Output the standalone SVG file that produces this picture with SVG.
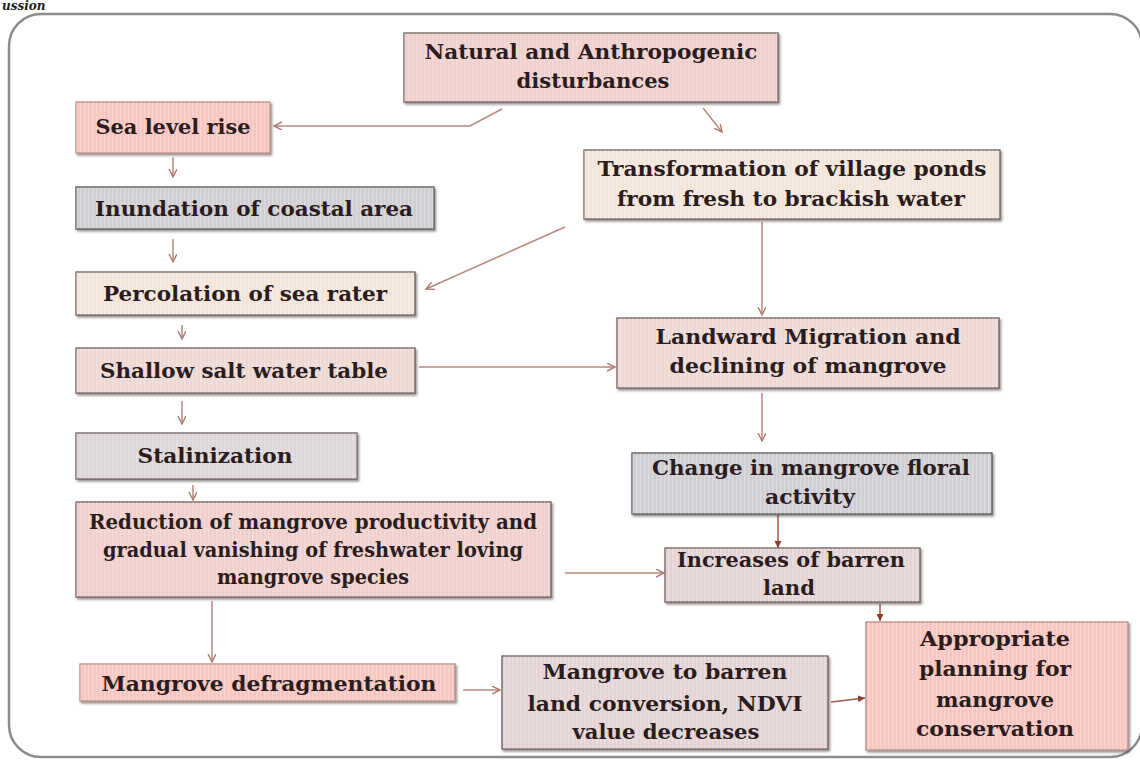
<svg xmlns="http://www.w3.org/2000/svg" width="1140" height="760" viewBox="0 0 1140 760">
<defs>
<filter id="sh" x="-5%" y="-10%" width="110%" height="130%">
<feDropShadow dx="1.5" dy="2" stdDeviation="1" flood-color="#4a3a3a" flood-opacity="0.55"/>
</filter>
<pattern id="stripes" width="4" height="4" patternUnits="userSpaceOnUse">
<rect x="0" y="0" width="1.5" height="4" fill="#ffffff" fill-opacity="0.22"/>
</pattern>
<marker id="open" markerWidth="10" markerHeight="10" refX="8" refY="4" orient="auto" markerUnits="userSpaceOnUse">
<path d="M0,0 L8,4 L0,8" fill="none" stroke="#b0786c" stroke-width="1.4"/>
</marker>
<marker id="solid" markerWidth="10" markerHeight="10" refX="7" refY="3.5" orient="auto" markerUnits="userSpaceOnUse">
<path d="M0,0 L7,3.5 L0,7 Z" fill="#8e3a2c"/>
</marker>
</defs>
<style>
.box{stroke:#6f5c5c;stroke-width:1.3;filter:url(#sh)}
.ov{fill:url(#stripes);stroke:none}
.salmon{fill:#f8c5c0;stroke:#b98a86}
.pink{fill:#f0cfcd}
.beige{fill:#f3e5da}
.rose{fill:#edd8d4}
.gray{fill:#cfcfd3;stroke:#555}
.lgray{fill:#ddd7d9}
.mauve{fill:#e4d3d4}
text{font-family:"DejaVu Serif","Liberation Serif",serif;font-weight:bold;font-size:21px;fill:#2b1d1d;text-anchor:middle}
.c{fill:none;stroke:#b88a7c;stroke-width:1.5;marker-end:url(#open)}
.cs{fill:none;stroke:#a0594a;stroke-width:1.5;marker-end:url(#solid)}
</style>
<rect width="1140" height="760" fill="#ffffff"/>
<text x="2" y="10" style="font-style:italic;font-size:12px;fill:#222;text-anchor:start">ussion</text>
<rect x="9" y="14" width="1133" height="743" rx="32" ry="32" fill="none" stroke="#8c8c8c" stroke-width="2.5"/>

<g id="connectors">
<polyline class="c" points="502,109 470,126 274,126"/>
<line class="c" x1="703" y1="108" x2="722" y2="132"/>
<line class="c" x1="173" y1="157" x2="173" y2="177"/>
<line class="c" x1="173" y1="239" x2="173" y2="262"/>
<line class="c" x1="565" y1="227" x2="426" y2="289"/>
<line class="c" x1="182" y1="325" x2="182" y2="339"/>
<line class="c" x1="419" y1="367" x2="615" y2="367"/>
<line class="c" x1="762" y1="222" x2="762" y2="315"/>
<line class="c" x1="182" y1="401" x2="182" y2="424"/>
<line class="c" x1="762" y1="393" x2="762" y2="441"/>
<line class="c" x1="193" y1="485" x2="193" y2="500"/>
<line class="cs" x1="778" y1="515" x2="778" y2="548"/>
<line class="c" x1="565" y1="573" x2="664" y2="573"/>
<line class="c" x1="212" y1="601" x2="212" y2="662"/>
<line class="cs" x1="880" y1="604" x2="880" y2="621"/>
<line class="c" x1="463" y1="690" x2="500" y2="690"/>
<line class="cs" x1="831" y1="702" x2="865" y2="698"/>
</g>

<g id="n_natural">
<rect class="box pink" x="404" y="33" width="374" height="69"/>
<rect class="ov" x="404" y="33" width="374" height="69"/>
<text x="591" y="59" textLength="333" lengthAdjust="spacingAndGlyphs">Natural and Anthropogenic</text>
<text x="593" y="88" textLength="153" lengthAdjust="spacingAndGlyphs">disturbances</text>
</g>

<g id="n_sealevel">
<rect class="box salmon" x="76" y="102" width="194" height="51"/>
<rect class="ov" x="76" y="102" width="194" height="51"/>
<text x="173" y="134" textLength="155" lengthAdjust="spacingAndGlyphs">Sea level rise</text>
</g>

<g id="n_transformation">
<rect class="box beige" x="584" y="150" width="416" height="69"/>
<rect class="ov" x="584" y="150" width="416" height="69"/>
<text x="792" y="176" textLength="389" lengthAdjust="spacingAndGlyphs">Transformation of village ponds</text>
<text x="791" y="206" textLength="348" lengthAdjust="spacingAndGlyphs">from fresh to brackish water</text>
</g>

<g id="n_inundation">
<rect class="box gray" x="76" y="187" width="358" height="42"/>
<rect class="ov" x="76" y="187" width="358" height="42"/>
<text x="254" y="216" textLength="318" lengthAdjust="spacingAndGlyphs">Inundation of coastal area</text>
</g>

<g id="n_percolation">
<rect class="box beige" x="76" y="272" width="339" height="43"/>
<rect class="ov" x="76" y="272" width="339" height="43"/>
<text x="245" y="301" textLength="284" lengthAdjust="spacingAndGlyphs">Percolation of sea rater</text>
</g>

<g id="n_shallow">
<rect class="box rose" x="76" y="348" width="339" height="45"/>
<rect class="ov" x="76" y="348" width="339" height="45"/>
<text x="244" y="378" textLength="288" lengthAdjust="spacingAndGlyphs">Shallow salt water table</text>
</g>

<g id="n_landward">
<rect class="box rose" x="617" y="318" width="382" height="70"/>
<rect class="ov" x="617" y="318" width="382" height="70"/>
<text x="808" y="344" textLength="305" lengthAdjust="spacingAndGlyphs">Landward Migration and</text>
<text x="808" y="373" textLength="277" lengthAdjust="spacingAndGlyphs">declining of mangrove</text>
</g>

<g id="n_stalinization">
<rect class="box lgray" x="76" y="433" width="281" height="46"/>
<rect class="ov" x="76" y="433" width="281" height="46"/>
<text x="215" y="463" textLength="155" lengthAdjust="spacingAndGlyphs">Stalinization</text>
</g>

<g id="n_change">
<rect class="box gray" x="632" y="453" width="360" height="61"/>
<rect class="ov" x="632" y="453" width="360" height="61"/>
<text x="811" y="475" textLength="318" lengthAdjust="spacingAndGlyphs">Change in mangrove floral</text>
<text x="810" y="504" textLength="90" lengthAdjust="spacingAndGlyphs">activity</text>
</g>

<g id="n_reduction">
<rect class="box pink" x="76" y="502" width="475" height="95"/>
<rect class="ov" x="76" y="502" width="475" height="95"/>
<text x="313" y="529" textLength="448" lengthAdjust="spacingAndGlyphs">Reduction of mangrove productivity and</text>
<text x="313" y="557" textLength="420" lengthAdjust="spacingAndGlyphs">gradual vanishing of freshwater loving</text>
<text x="313" y="584" textLength="192" lengthAdjust="spacingAndGlyphs">mangrove species</text>
</g>

<g id="n_increases">
<rect class="box mauve" x="665" y="548" width="255" height="54"/>
<rect class="ov" x="665" y="548" width="255" height="54"/>
<text x="791" y="567" textLength="228" lengthAdjust="spacingAndGlyphs">Increases of barren</text>
<text x="789" y="595" textLength="52" lengthAdjust="spacingAndGlyphs">land</text>
</g>

<g id="n_appropriate">
<rect class="box salmon" x="866" y="622" width="262" height="128"/>
<rect class="ov" x="866" y="622" width="262" height="128"/>
<text x="995" y="646" textLength="150" lengthAdjust="spacingAndGlyphs">Appropriate</text>
<text x="995" y="676" textLength="152" lengthAdjust="spacingAndGlyphs">planning for</text>
<text x="995" y="707" textLength="118" lengthAdjust="spacingAndGlyphs">mangrove</text>
<text x="995" y="736" textLength="158" lengthAdjust="spacingAndGlyphs">conservation</text>
</g>

<g id="n_defragmentation">
<rect class="box salmon" x="80" y="664" width="375" height="37"/>
<rect class="ov" x="80" y="664" width="375" height="37"/>
<text x="269" y="691" textLength="335" lengthAdjust="spacingAndGlyphs">Mangrove defragmentation</text>
</g>

<g id="n_conversion">
<rect class="box mauve" x="502" y="656" width="326" height="93"/>
<rect class="ov" x="502" y="656" width="326" height="93"/>
<text x="665" y="679" textLength="245" lengthAdjust="spacingAndGlyphs">Mangrove to barren</text>
<text x="665" y="711" textLength="275" lengthAdjust="spacingAndGlyphs">land conversion, NDVI</text>
<text x="666" y="739" textLength="187" lengthAdjust="spacingAndGlyphs">value decreases</text>
</g>
</svg>
